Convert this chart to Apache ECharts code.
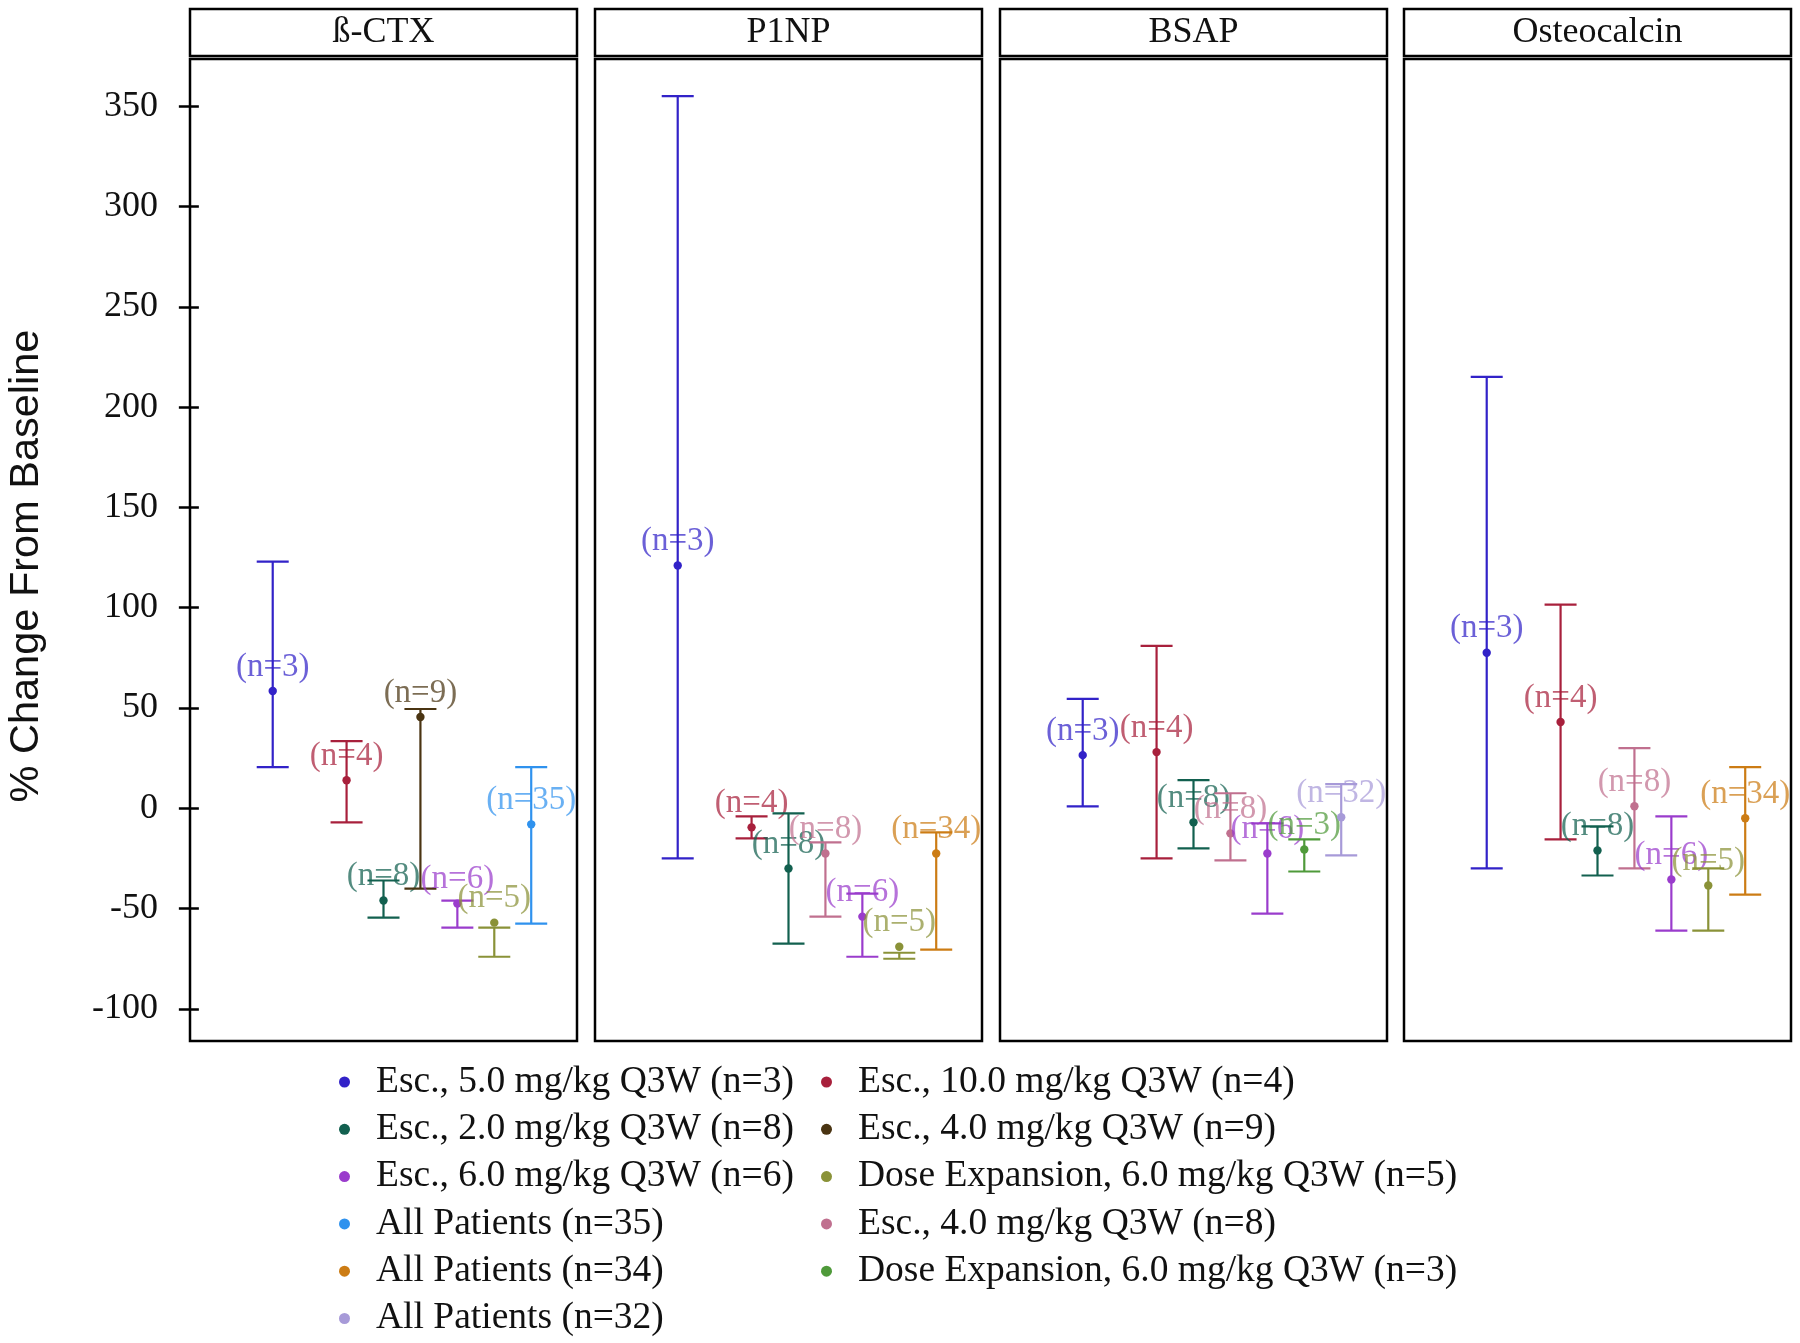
<!DOCTYPE html>
<html><head><meta charset="utf-8">
<script src="https://cdn.jsdelivr.net/npm/echarts@6/dist/echarts.min.js"></script>
<style>html,body{margin:0;padding:0;background:#fff}#c{width:1800px;height:1343px}</style>
</head><body><div id="c"></div>
<script>
// ---------------- data ----------------
const panelNames = ['ß-CTX', 'P1NP', 'BSAP', 'Osteocalcin'];
const groupNames = [
  'Esc., 5.0 mg/kg Q3W (n=3)',
  'Esc., 10.0 mg/kg Q3W (n=4)',
  'Esc., 2.0 mg/kg Q3W (n=8)',
  'Esc., 4.0 mg/kg Q3W (n=9)',
  'Esc., 6.0 mg/kg Q3W (n=6)',
  'Dose Expansion, 6.0 mg/kg Q3W (n=5)',
  'All Patients (n=35)',
  'Esc., 4.0 mg/kg Q3W (n=8)',
  'All Patients (n=34)',
  'Dose Expansion, 6.0 mg/kg Q3W (n=3)',
  'All Patients (n=32)'
];
const groupN = [3, 4, 8, 9, 6, 5, 35, 8, 34, 3, 32];
const yTickValues = [-100, -50, 0, 50, 100, 150, 200, 250, 300, 350];

// groups shown in each panel (indices into groupNames), in left-to-right order
const ctxGroups  = [0, 1, 2, 3, 4, 5, 6];
const ctxMean    = [58.5, 14, -46, 45.5, -47.5, -57, -8];
const ctxLow     = [20.5, -7, -54.5, -40, -59.5, -74, -57.5];
const ctxHigh    = [123, 33.5, -36, 49.5, -46, -59.5, 20.5];

const p1npGroups = [0, 1, 2, 7, 4, 5, 8];
const p1npMean   = [121, -9.5, -30, -22.5, -54, -69, -22.5];
const p1npLow    = [-25, -15, -67.5, -54, -74, -75, -70.5];
const p1npHigh   = [355, -4, -2.5, -17, -42.5, -72, -12];

const bsapGroups = [0, 1, 2, 7, 4, 9, 10];
const bsapMean   = [26.5, 28, -7, -12.5, -22.5, -20.5, -4.5];
const bsapLow    = [1, -25, -20, -26, -52.5, -31.5, -23.5];
const bsapHigh   = [54.5, 81, 14, 7.5, -7.5, -15.5, 12];

const ostGroups  = [0, 1, 2, 7, 4, 5, 8];
const ostMean    = [77.5, 43, -21, 1, -35.5, -38.5, -5];
const ostLow     = [-30, -15.5, -33.5, -30, -61, -61, -43];
const ostHigh    = [215, 101.5, -9, 30, -4, -30, 20.5];

const legendCol1 = [0, 2, 4, 6, 8, 10];
const legendCol2 = [1, 3, 5, 7, 9];

// ---------------- styling / layout ----------------
const groupColors = ['#3222c8', '#a8203c', '#12604f', '#4a3412', '#9a3ccc', '#8a9238',
                     '#2f92ee', '#c0708f', '#cc7c14', '#4f9a3a', '#a79ad8'];
const slotPos = [2, 4, 5, 6, 7, 8, 9];
const panelLeft = [190, 595, 1000, 1404];
const panelW = 387;
const gridTop = 59, gridH = 982;
const serif = '"Liberation Serif", "Times New Roman", serif';

const panelData = [
  [ctxGroups, ctxMean, ctxLow, ctxHigh],
  [p1npGroups, p1npMean, p1npLow, p1npHigh],
  [bsapGroups, bsapMean, bsapLow, bsapHigh],
  [ostGroups, ostMean, ostLow, ostHigh]
];

const grids = [], xAxes = [], yAxes = [], series = [], graphics = [];
panelNames.forEach((pn, p) => {
  grids.push({left: panelLeft[p], top: gridTop, width: panelW, height: gridH,
    show: true, borderColor: '#000', borderWidth: 2.5, backgroundColor: 'transparent'});
  xAxes.push({gridIndex: p, type: 'value', min: -0.24, max: 10.24, show: false});
  yAxes.push({gridIndex: p, type: 'value', min: -116, max: 373.5, show: p === 0,
    axisLine: {show: false}, splitLine: {show: false},
    axisTick: {show: true, inside: false, length: 20, customValues: yTickValues,
      lineStyle: {color: '#000', width: 2.5}},
    axisLabel: {show: true, margin: 32, customValues: yTickValues,
      fontFamily: serif, fontSize: 36, color: '#111'}});
  // strip header
  graphics.push({type: 'rect', shape: {x: panelLeft[p], y: 9, width: panelW, height: 47},
    style: {fill: '#fff', stroke: '#000', lineWidth: 2.5}, z: 1});
  graphics.push({type: 'text', x: panelLeft[p] + panelW / 2, y: 33, z: 2,
    style: {text: pn, font: '36px ' + serif, fill: '#111', align: 'center', verticalAlign: 'middle'}});

  const [gi, mean, lo, hi] = panelData[p];
  gi.forEach((g, k) => {
    const color = groupColors[g];
    series.push({
      type: 'custom', name: groupNames[g], xAxisIndex: p, yAxisIndex: p,
      itemStyle: {color: color},
      data: [[slotPos[k], mean[k], lo[k], hi[k]]],
      renderItem: function (params, api) {
        const x = api.value(0);
        const pM = api.coord([x, api.value(1)]);
        const pL = api.coord([x, api.value(2)]);
        const pH = api.coord([x, api.value(3)]);
        const hw = 16;
        const ls = {stroke: color, lineWidth: 2.2};
        return {type: 'group', children: [
          {type: 'line', shape: {x1: pH[0], y1: pH[1], x2: pL[0], y2: pL[1]}, style: ls},
          {type: 'line', shape: {x1: pH[0] - hw, y1: pH[1], x2: pH[0] + hw, y2: pH[1]}, style: ls},
          {type: 'line', shape: {x1: pL[0] - hw, y1: pL[1], x2: pL[0] + hw, y2: pL[1]}, style: ls},
          {type: 'circle', shape: {cx: pM[0], cy: pM[1], r: 4.2}, style: {fill: color}},
          {type: 'text', x: pM[0], y: pM[1] - 24,
            style: {text: '(n=' + groupN[g] + ')', font: '33px ' + serif, fill: color,
              opacity: 0.72, align: 'center', verticalAlign: 'middle'}}
        ]};
      }
    });
  });
});

graphics.push({type: 'text', x: 27, y: 566, rotation: Math.PI / 2,
  style: {text: '% Change From Baseline', font: '41.5px "Liberation Sans", Arial, sans-serif',
    fill: '#111', align: 'center', verticalAlign: 'middle'}});

const legendBase = {orient: 'vertical', top: 1058, height: 320, itemWidth: 11, itemHeight: 11, itemGap: 9.3,
  icon: 'circle', selectedMode: false,
  textStyle: {fontFamily: serif, fontSize: 37.5, color: '#111', padding: [0, 0, 0, 21]}};

const chart = echarts.init(document.getElementById('c'), null, {renderer: 'canvas'});
chart.setOption({
  animation: false,
  backgroundColor: '#fff',
  grid: grids, xAxis: xAxes, yAxis: yAxes, series: series,
  legend: [
    Object.assign({}, legendBase, {left: 334, data: legendCol1.map(i => groupNames[i])}),
    Object.assign({}, legendBase, {left: 816, data: legendCol2.map(i => groupNames[i])})
  ],
  graphic: graphics
});
</script></body></html>
